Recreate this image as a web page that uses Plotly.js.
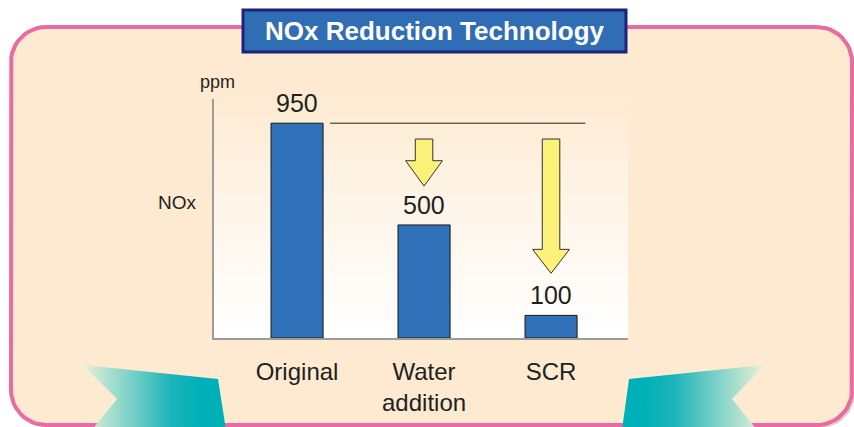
<!DOCTYPE html>
<html>
<head>
<meta charset="utf-8">
<script src="https://cdn.plot.ly/plotly-3.0.1.min.js"></script>
<style>
html,body{margin:0;padding:0;background:#fff;}
#chart{width:854px;height:427px;}
</style>
</head>
<body>
<div id="chart"></div>
<script>
// ---- data ----
const categories = ['Original', 'Water<br>addition', 'SCR'];
const noxPpm = [950, 500, 100];
const valueLabels = ['950', '500', '100'];
const chartTitle = 'NOx Reduction Technology';
const yAxisName = 'NOx';
const yAxisUnit = 'ppm';

// ---- page geometry (pixels) ----
const W = 854, H = 427;
const px = x => x / W;
const py = y => 1 - y / H;
const FONT = '"Liberation Sans", Arial, Helvetica, sans-serif';
const INK = '#231f20';
const CREAM = '#fdead1';
const PINK = '#ea6aa3';
const catIndex = categories.map((c, i) => i);

function roundRect(x0, y0, x1, y1, r) {
  const xs = [], ys = [];
  const corners = [
    [x1 - r, y0 + r, -Math.PI / 2, 0],
    [x1 - r, y1 - r, 0, Math.PI / 2],
    [x0 + r, y1 - r, Math.PI / 2, Math.PI],
    [x0 + r, y0 + r, Math.PI, 1.5 * Math.PI]
  ];
  corners.forEach(([cx, cy, a0, a1]) => {
    for (let i = 0; i <= 12; i++) {
      const a = a0 + (a1 - a0) * i / 12;
      xs.push(cx + r * Math.cos(a));
      ys.push(cy + r * Math.sin(a));
    }
  });
  xs.push(xs[0]); ys.push(ys[0]);
  return {xs, ys};
}

const bgCommon = {xaxis: 'x', yaxis: 'y', mode: 'lines', hoverinfo: 'skip', showlegend: false};
const shadow = roundRect(14, 30, 855, 428, 35);
const panel = roundRect(11, 27, 852, 425, 35);

const traces = [];
traces.push(Object.assign({}, bgCommon, {
  x: shadow.xs, y: shadow.ys, fill: 'toself', fillcolor: '#e4cdc4', line: {width: 0}
}));
traces.push(Object.assign({}, bgCommon, {
  x: panel.xs, y: panel.ys, fill: 'toself', fillcolor: CREAM, line: {color: PINK, width: 4}
}));
// plot-area gradient (cream at top fading to white at the base)
traces.push(Object.assign({}, bgCommon, {
  x: [214, 628, 628, 214, 214], y: [95, 95, 338, 338, 95], fill: 'toself',
  line: {width: 0},
  fillgradient: {type: 'vertical', start: 95, stop: 338,
    colorscale: [[0, CREAM], [0.35, '#fef3e4'], [1, '#ffffff']]}
}));
// teal ribbons
traces.push(Object.assign({}, bgCommon, {
  x: [83, 218, 226, 92, 117, 83], y: [365, 379, 430, 430, 399, 365], fill: 'toself',
  line: {width: 0},
  fillgradient: {type: 'horizontal', start: 85, stop: 200,
    colorscale: [[0, '#e2f1d6'], [0.75, '#1cb4ba'], [1, '#00b0b8']]}
}));
traces.push(Object.assign({}, bgCommon, {
  x: [629, 764, 732, 757, 622, 629], y: [379, 365, 399, 430, 430, 379], fill: 'toself',
  line: {width: 0},
  fillgradient: {type: 'horizontal', start: 645, stop: 762,
    colorscale: [[0, '#00b0b8'], [0.25, '#1cb4ba'], [1, '#e2f1d6']]}
}));

// ---- chart proper ----
traces.push({
  type: 'bar', xaxis: 'x2', yaxis: 'y2',
  x: catIndex, y: noxPpm, width: 0.41,
  marker: {color: '#2f70b8', line: {color: '#1a1a1a', width: 1}},
  hoverinfo: 'y', showlegend: false
});
// reference line at the original level
traces.push({
  xaxis: 'x2', yaxis: 'y2', mode: 'lines', showlegend: false, hoverinfo: 'skip',
  x: [0.26, 2.27], y: [noxPpm[0], noxPpm[0]],
  line: {color: INK, width: 1}
});
// reduction arrows (decorative, in axis units)
const arrowSpecs = [
  {c: 1, top: 880, neck: 784, tip: 672},
  {c: 2, top: 880, neck: 392, tip: 286}
];
arrowSpecs.forEach(a => {
  const s = 0.069, h = 0.145;
  traces.push({
    xaxis: 'x2', yaxis: 'y2', mode: 'lines', showlegend: false, hoverinfo: 'skip',
    x: [a.c - s, a.c + s, a.c + s, a.c + h, a.c, a.c - h, a.c - s, a.c - s],
    y: [a.top, a.top, a.neck, a.neck, a.tip, a.neck, a.neck, a.top],
    fill: 'toself', fillcolor: '#fcf27a', line: {color: '#333333', width: 1}
  });
});

const annotations = categories.map((c, i) => ({
  xref: 'x2', yref: 'y2', x: i, y: noxPpm[i], text: valueLabels[i],
  showarrow: false, yanchor: 'middle', yshift: 20,
  font: {family: FONT, size: 25, color: INK}
}));
annotations.push({
  xref: 'paper', yref: 'paper', x: px(217), y: py(82), text: yAxisUnit,
  showarrow: false, xanchor: 'center', yanchor: 'middle',
  font: {family: FONT, size: 18, color: INK}
});
annotations.push({
  xref: 'paper', yref: 'paper', x: px(177), y: py(202), text: yAxisName,
  showarrow: false, xanchor: 'center', yanchor: 'middle',
  font: {family: FONT, size: 19, color: INK}
});
annotations.push({
  xref: 'paper', yref: 'paper', x: px(435), y: py(31), text: '<b>' + chartTitle + '</b>',
  showarrow: false, xanchor: 'center', yanchor: 'middle',
  font: {family: FONT, size: 26, color: '#ffffff'}
});

const layout = {
  width: W, height: H,
  margin: {l: 0, r: 0, t: 0, b: 0, pad: 0},
  paper_bgcolor: '#ffffff', plot_bgcolor: 'rgba(0,0,0,0)',
  showlegend: false,
  xaxis: {domain: [0, 1], range: [0, W], visible: false, fixedrange: true},
  yaxis: {domain: [0, 1], range: [H, 0], visible: false, fixedrange: true},
  xaxis2: {
    domain: [px(214), px(628)], anchor: 'y2', type: 'linear',
    range: [-0.654, 2.606], showgrid: false, zeroline: false,
    tickmode: 'array', tickvals: catIndex, ticktext: categories,
    showline: true, linecolor: '#9c9c9c', linewidth: 2, ticks: '',
    ticklabelstandoff: 11,
    tickfont: {family: FONT, size: 24, color: INK}, fixedrange: true
  },
  yaxis2: {
    domain: [py(338), py(99)], anchor: 'x2', range: [0, 1057],
    showgrid: false, zeroline: false, showticklabels: false, ticks: '',
    showline: true, linecolor: '#9c9c9c', linewidth: 2, fixedrange: true
  },
  shapes: [{
    type: 'rect', xref: 'paper', yref: 'paper', layer: 'above',
    x0: px(243), x1: px(626), y0: py(52), y1: py(10),
    fillcolor: '#2f6db5', line: {color: '#1d237a', width: 3}
  }],
  annotations: annotations
};

Plotly.newPlot('chart', traces, layout, {displayModeBar: false, staticPlot: true});
</script>
</body>
</html>
